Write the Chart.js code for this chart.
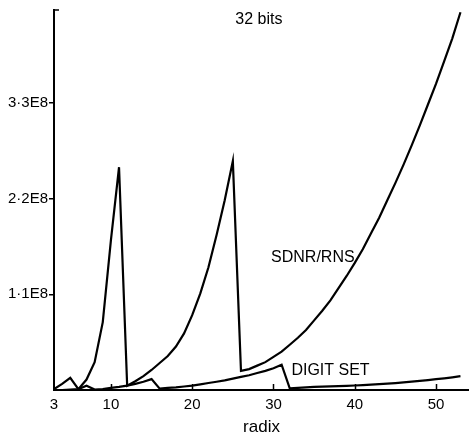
<!DOCTYPE html>
<html>
<head>
<meta charset="utf-8">
<script src="https://cdn.jsdelivr.net/npm/chart.js@4.4.1/dist/chart.umd.min.js"></script>
<style>
  html, body { margin: 0; padding: 0; background: #fff; }
  #wrap { width: 469px; height: 433px; }
</style>
</head>
<body>
<div id="wrap"><canvas id="radixChart" width="469" height="433"></canvas></div>
<script>
// radix on the x axis
const radix = [3, 4, 5, 6, 7, 8, 9, 10, 11, 12, 13, 14, 15, 16, 17, 18, 19, 20,
  21, 22, 23, 24, 25, 26, 27, 28, 29, 30, 31, 32, 33, 34, 35, 36, 37, 38, 39, 40,
  41, 42, 43, 44, 45, 46, 47, 48, 49, 50, 51, 52, 53];

// values in millions (1E8 = 100)
const sdnrRns = [1, 7, 14, 1, 12, 32, 78, 172, 256, 5, 10, 16, 23, 31, 39, 50, 65, 86,
  111, 141, 178, 218, 263, 22, 24, 28, 32, 38, 44, 52, 60, 69, 80, 91, 103, 117, 131, 146,
  162, 180, 198, 218, 238, 259, 281, 304, 328, 352, 378, 404, 434];

const digitSet = [0, 0, 0.5, 1, 5, 0.5, 1, 2.5, 3.5, 5, 7, 9.5, 12.5, 1.5, 2.5, 3, 4, 5,
  6.5, 8, 9.5, 11, 13, 15, 17, 19.5, 22, 25, 29, 2, 2.5, 3, 3.5, 3.8, 4.2, 4.5, 4.8, 5.2,
  5.7, 6.2, 6.8, 7.4, 8, 8.8, 9.6, 10.5, 11.4, 12.4, 13.4, 14.6, 16];

const xTicks = [3, 10, 20, 30, 40, 50];
const yTicks = [110, 220, 330];

// text written inside the plot, anchored in data units
const notes = [
  { text: '32 bits', x: 28.2, y: 426, align: 'center' },
  { text: 'SDNR/RNS', x: 29.7, y: 152, align: 'left' },
  { text: 'DIGIT SET', x: 32.2, y: 22, align: 'left' }
];

const FONT = '"Liberation Sans", Arial, sans-serif';

const plotExtras = {
  id: 'plotExtras',
  afterDraw(chart) {
    const ctx = chart.ctx;
    const x = chart.scales.x, y = chart.scales.y;
    const area = chart.chartArea;
    ctx.save();
    ctx.strokeStyle = '#000';
    ctx.lineWidth = 1.5;
    ctx.beginPath();
    // x ticks point up into the plot
    x.ticks.forEach(function (t) {
      if (t.value === x.min) return;
      const px = Math.round(x.getPixelForValue(t.value)) + 0.5;
      ctx.moveTo(px, area.bottom);
      ctx.lineTo(px, area.bottom - 6);
    });
    // little cap on top of the y axis
    ctx.moveTo(area.left, area.top);
    ctx.lineTo(area.left + 5, area.top);
    ctx.stroke();

    ctx.fillStyle = '#000';
    ctx.font = '16px ' + FONT;
    ctx.textBaseline = 'middle';
    notes.forEach(function (n) {
      ctx.textAlign = n.align;
      ctx.fillText(n.text, x.getPixelForValue(n.x), y.getPixelForValue(n.y));
    });
    ctx.restore();
  }
};

function points(values) {
  return radix.map(function (r, i) { return { x: r, y: values[i] }; });
}

const lineStyle = { borderColor: '#000', borderWidth: 2.2, pointRadius: 0, tension: 0, fill: false };

new Chart(document.getElementById('radixChart'), {
  type: 'line',
  data: {
    datasets: [
      Object.assign({ label: 'SDNR/RNS', data: points(sdnrRns) }, lineStyle),
      Object.assign({ label: 'DIGIT SET', data: points(digitSet) }, lineStyle)
    ]
  },
  options: {
    responsive: false,
    animation: false,
    layout: { padding: { top: 9, right: 0, left: 0, bottom: 0 } },
    plugins: {
      legend: { display: false },
      tooltip: { enabled: false }
    },
    scales: {
      x: {
        type: 'linear',
        min: 3,
        max: 54.05,
        afterBuildTicks: function (s) { s.ticks = xTicks.map(function (v) { return { value: v }; }); },
        afterFit: function (s) { s.height = 43; },
        grid: { drawOnChartArea: false, drawTicks: false },
        border: { display: true, color: '#000', width: 2 },
        ticks: { color: '#000', font: { family: FONT, size: 15 }, padding: 6, maxRotation: 0, autoSkip: false },
        title: {
          display: true, text: 'radix', color: '#000',
          font: { family: FONT, size: 17, lineHeight: 1 }, padding: { top: 0, bottom: -3 }
        }
      },
      y: {
        type: 'linear',
        min: 0,
        max: 436.6,
        afterBuildTicks: function (s) { s.ticks = yTicks.map(function (v) { return { value: v }; }); },
        afterFit: function (s) { s.width = 54; },
        grid: { drawOnChartArea: false, drawTicks: true, tickLength: 5, color: '#000', lineWidth: 1.5 },
        border: { display: true, color: '#000', width: 2 },
        ticks: {
          color: '#000', font: { family: FONT, size: 15 }, padding: 1, autoSkip: false,
          callback: function (v) { return (v / 100).toFixed(1).replace('.', '\u00b7') + 'E8'; }
        }
      }
    }
  },
  plugins: [plotExtras]
});
</script>
</body>
</html>
